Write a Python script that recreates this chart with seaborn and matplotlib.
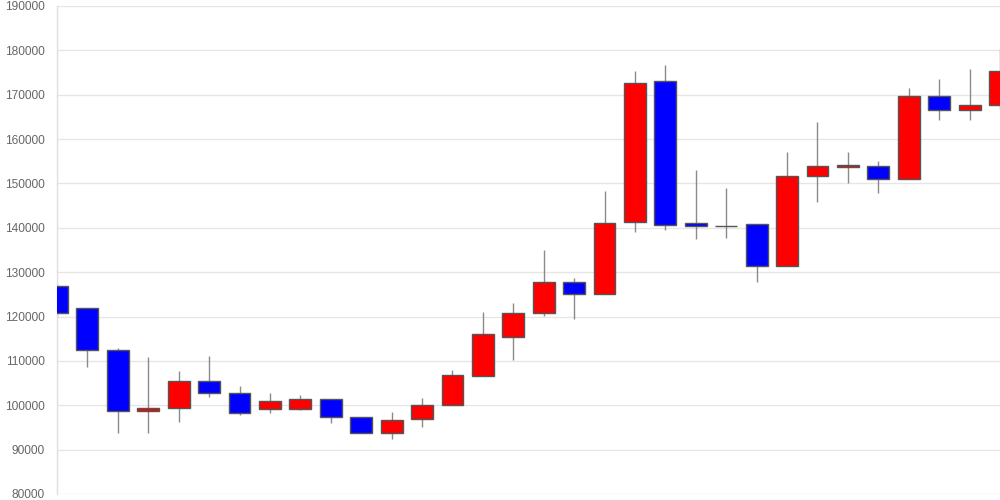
import matplotlib
matplotlib.use("Agg")
import matplotlib.pyplot as plt
import seaborn as sns
import numpy as np
import pandas as pd

opens  = [126800, 121900, 112400, 98700, 99300, 105400, 102800, 99100, 99100, 101500,
          97300, 93700, 96800, 100000, 106500, 115400, 120800, 127800, 125000, 141200,
          173000, 141000, 140500, 140800, 131300, 151700, 153800, 153900, 151100, 169800,
          166600, 167600]
closes = [120800, 112400, 98700, 99300, 105400, 102800, 98300, 101000, 101500, 97300,
          93700, 96600, 100000, 106800, 116000, 120800, 127800, 125000, 141000, 172700,
          140600, 140400, 140500, 131300, 151700, 153900, 154200, 151100, 169800, 166600,
          167600, 175300]
highs  = [127500, 122000, 113000, 110800, 107700, 111200, 104300, 102700, 102300, 101500,
          97300, 98400, 101700, 107900, 121000, 123000, 135000, 128600, 148200, 175400,
          176600, 153000, 148900, 140800, 157200, 163800, 157200, 155000, 171600, 173600,
          175700, 180200]
lows   = [120000, 108700, 93700, 93800, 96300, 101900, 97800, 98300, 99000, 95900,
          93700, 92400, 95200, 100000, 106500, 110200, 120100, 119400, 125000, 139100,
          139400, 137400, 137600, 127800, 131300, 145900, 150200, 147800, 151100, 164400,
          164400, 166800]
y_ticks = list(range(80000, 190001, 10000))

df = pd.DataFrame({"open": opens, "close": closes, "high": highs, "low": lows})
df["idx"] = np.arange(len(df))
df["up"] = df["close"] >= df["open"]

sns.set_style("white")
fig = plt.figure(figsize=(10, 5), dpi=100)
ax = fig.add_axes([0.057, 0.012, 0.943, 0.976])

ax.vlines(df["idx"], df["low"], df["high"], color="#8a8a8a", linewidth=1, zorder=2)
bottoms = np.minimum(df["open"], df["close"])
heights = np.abs(df["close"] - df["open"])
colors = ["#ff0000" if u else "#0000ff" for u in df["up"]]
ax.bar(df["idx"], heights, bottom=bottoms, width=0.72, color=colors,
       edgecolor="#555555", linewidth=1, zorder=3)

ax.set_xlim(0, 31)
ax.set_ylim(80000, 190000)
ax.set_yticks(y_ticks)
ax.set_yticklabels([str(t) for t in y_ticks])
ax.set_xticks([])
ax.grid(axis="y", color="#e6e6e6", linewidth=1, zorder=0)
ax.set_axisbelow(True)
for s in ["top", "right", "bottom"]:
    ax.spines[s].set_visible(False)
ax.spines["left"].set_color("#e0e0e0")
ax.spines["left"].set_linewidth(1)
ax.tick_params(axis="y", length=8, width=1, color="#e6e6e6", pad=1,
               labelsize=8.6, labelcolor="#666666")
for lbl in ax.get_yticklabels():
    lbl.set_family(["Liberation Sans", "DejaVu Sans"])

fig.savefig("out.png", dpi=100)
